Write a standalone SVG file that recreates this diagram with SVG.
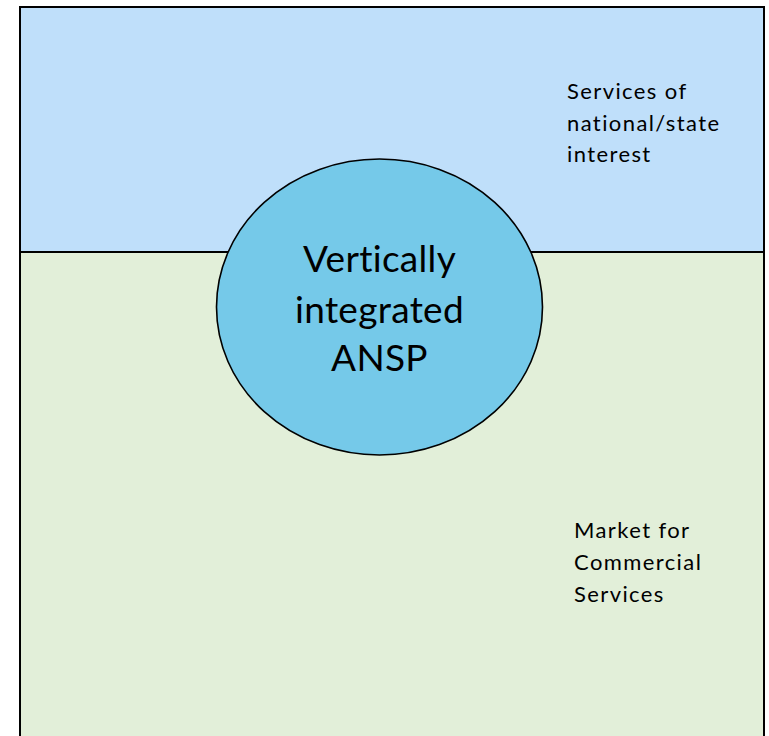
<svg xmlns="http://www.w3.org/2000/svg" width="769" height="736" viewBox="0 0 769 736">
<style>
.lbl{font-family:Lato,"Open Sans","Liberation Sans",sans-serif;fill:#000}
.small{font-size:22px;letter-spacing:1.4px}
.big{font-size:37px;letter-spacing:0.3px}
</style>
<rect width="769" height="736" fill="#ffffff"/>
<g id="zone-state">
<rect x="20" y="7" width="744" height="245" fill="#BFDFFA" stroke="#000" stroke-width="2"/>
<text class="lbl small" x="567" y="99">Services of</text>
<text class="lbl small" x="567" y="131">national/state</text>
<text class="lbl small" x="567" y="162">interest</text>
</g>
<g id="zone-market">
<rect x="20" y="252" width="744" height="490" fill="#E2EFD9" stroke="#000" stroke-width="2"/>
<text class="lbl small" x="574" y="538">Market for</text>
<text class="lbl small" x="574" y="570">Commercial</text>
<text class="lbl small" x="574" y="602">Services</text>
</g>
<g id="connectors"></g>
<g id="ansp">
<ellipse cx="379.5" cy="307" rx="163" ry="148" fill="#75C9E9" stroke="#000" stroke-width="1.6"/>
<text class="lbl big" x="379.5" y="272" text-anchor="middle">Vertically</text>
<text class="lbl big" x="379.5" y="323" text-anchor="middle">integrated</text>
<text class="lbl big" x="379.5" y="371" text-anchor="middle">ANSP</text>
</g>
</svg>
